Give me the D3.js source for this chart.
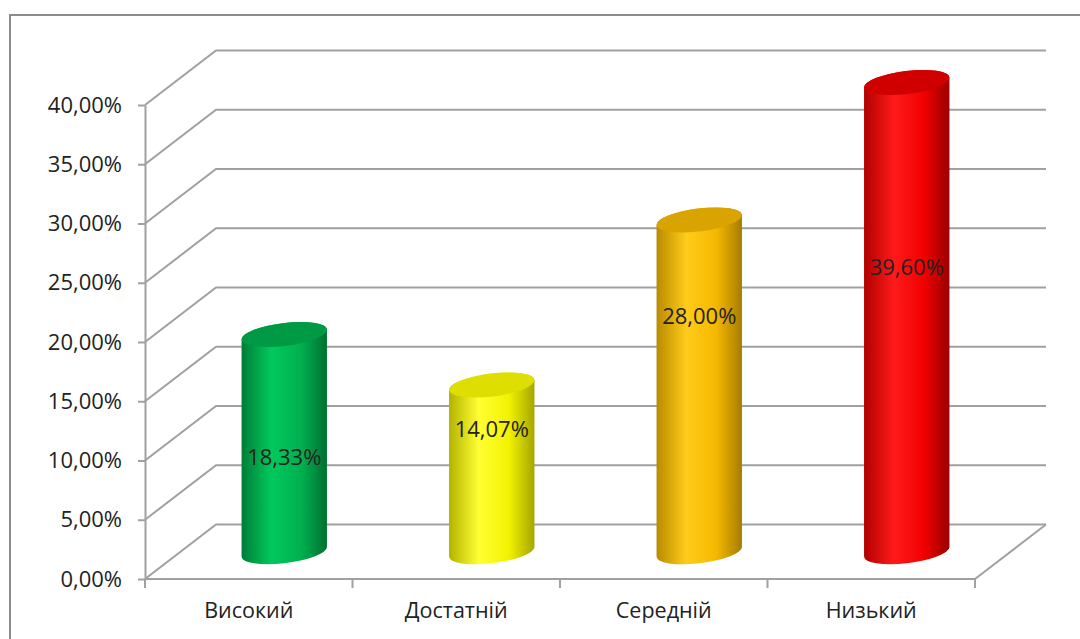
<!DOCTYPE html>
<html>
<head>
<meta charset="utf-8">
<script src="https://d3js.org/d3.v7.min.js"></script>
<style>
  body { margin: 0; background: #fff; }
  text { font-family: "Open Sans", sans-serif; fill: #222; }
</style>
</head>
<body>
<svg width="1080" height="639"></svg>
<script>
// data
var categories = ["Високий", "Достатній", "Середній", "Низький"];
var values = [18.33, 14.07, 28.00, 39.60];
var valueLabels = ["18,33%", "14,07%", "28,00%", "39,60%"];
// height (in % units) where each value label sits inside its bar
var labelLevels = [8.0, 10.3, 19.9, 24.0];
var yTicks = [0, 5, 10, 15, 20, 25, 30, 35, 40];
var bodyColors = [
  ["#007d38", "#00c95c", "#00b050", "#006f31"],
  ["#b3b300", "#ffff33", "#f2f200", "#a6a600"],
  ["#b98b00", "#ffcc1a", "#f5b800", "#a67c00"],
  ["#b00000", "#ff1a1a", "#f20000", "#990000"]
];
var capColors = ["#009a44", "#dede00", "#d9a400", "#d10000"];

var svg = d3.select("svg");

var x0 = 145, x1 = 975, yBase = 579, yTop = 105;
var depthX = 71, depthY = 54.5;

var x = d3.scaleBand().domain(categories).range([x0, x1]);
var y = d3.scaleLinear().domain([0, 40]).range([yBase, yTop]);

// outer frame
svg.append("path")
   .attr("d", "M10,640 L10,15 L1081,15")
   .attr("fill", "none")
   .attr("stroke", "#8c8c8c")
   .attr("stroke-width", 2);

// back wall gridlines with the side-wall diagonals
svg.append("g").selectAll("path")
   .data(yTicks)
   .enter().append("path")
   .attr("d", function(d) {
       return "M" + x0 + "," + y(d) + " L" + (x0 + depthX) + "," + (y(d) - depthY) +
              " L" + (x1 + depthX) + "," + (y(d) - depthY);
   })
   .attr("fill", "none")
   .attr("stroke", "#a0a0a0")
   .attr("stroke-width", 2);

// floor: front edge and right diagonal
svg.append("path")
   .attr("d", "M" + x0 + "," + yBase + " L" + x1 + "," + yBase + " L" + (x1 + depthX) + "," + (yBase - depthY))
   .attr("fill", "none")
   .attr("stroke", "#a0a0a0")
   .attr("stroke-width", 2);

// y axis
var fmt = function(d) { return d3.format(".2f")(d).replace(".", ",") + "%"; };
var yAxis = svg.append("g")
   .attr("transform", "translate(" + x0 + ",0)")
   .call(d3.axisLeft(y).tickValues(yTicks).tickFormat(fmt).tickSizeInner(7).tickSizeOuter(0).tickPadding(16));
yAxis.select(".domain").attr("stroke", "#a0a0a0").attr("stroke-width", 2);
yAxis.selectAll(".tick line").attr("stroke", "#a0a0a0").attr("stroke-width", 2);
yAxis.selectAll(".tick text").style("font-size", "22px").style("font-family", "Open Sans").attr("fill", "#222");

// category ticks below floor
var bounds = categories.map(function(c) { return x(c); }).concat([x1]);
svg.append("g").selectAll("line")
   .data(bounds)
   .enter().append("line")
   .attr("x1", function(d) { return d; })
   .attr("x2", function(d) { return d; })
   .attr("y1", yBase)
   .attr("y2", yBase + 9)
   .attr("stroke", "#a0a0a0")
   .attr("stroke-width", 2);

svg.append("g").selectAll("text")
   .data(categories)
   .enter().append("text")
   .attr("x", function(d) { return x(d) + x.bandwidth() / 2; })
   .attr("y", 618)
   .attr("text-anchor", "middle")
   .style("font-size", "21.5px")
   .text(function(d) { return d; });

// gradients
var defs = svg.append("defs");
bodyColors.forEach(function(c, i) {
    var g = defs.append("linearGradient").attr("id", "body" + i)
        .attr("x1", "0").attr("x2", "1").attr("y1", "0").attr("y2", "0");
    g.append("stop").attr("offset", "0%").attr("stop-color", c[0]);
    g.append("stop").attr("offset", "35%").attr("stop-color", c[1]);
    g.append("stop").attr("offset", "70%").attr("stop-color", c[2]);
    g.append("stop").attr("offset", "100%").attr("stop-color", c[3]);
});

// cylinders, placed at mid depth
var rx = 43, ry = 11.5, theta = -7;
var th = theta * Math.PI / 180;
var t0 = Math.atan(-ry * Math.sin(th) / (rx * Math.cos(th)));
var px = rx * Math.cos(t0) * Math.cos(th) - ry * Math.sin(t0) * Math.sin(th);
var py = rx * Math.cos(t0) * Math.sin(th) + ry * Math.sin(t0) * Math.cos(th);
if (px < 0) { px = -px; py = -py; }

var yMid = function(v) { return y(v) - depthY / 2; };
var cxOf = function(c) { return x(c) + x.bandwidth() / 2 + depthX / 2; };

var bars = svg.append("g").selectAll("g")
   .data(values)
   .enter().append("g");

bars.append("path")
   .attr("d", function(d, i) {
       var cx = cxOf(categories[i]), top = yMid(d), bot = yMid(0);
       return "M" + (cx - px) + "," + (top - py) +
              " L" + (cx - px) + "," + (bot - py) +
              " A" + rx + "," + ry + " " + theta + " 0 0 " + (cx + px) + "," + (bot + py) +
              " L" + (cx + px) + "," + (top + py) +
              " A" + rx + "," + ry + " " + theta + " 0 0 " + (cx - px) + "," + (top - py) + " Z";
   })
   .attr("fill", function(d, i) { return "url(#body" + i + ")"; });

bars.append("ellipse")
   .attr("cx", function(d, i) { return cxOf(categories[i]); })
   .attr("cy", function(d) { return yMid(d); })
   .attr("rx", rx)
   .attr("ry", ry)
   .attr("transform", function(d, i) { return "rotate(" + theta + "," + cxOf(categories[i]) + "," + yMid(d) + ")"; })
   .attr("fill", function(d, i) { return capColors[i]; });

bars.append("text")
   .attr("x", function(d, i) { return cxOf(categories[i]); })
   .attr("y", function(d, i) { return yMid(labelLevels[i]); })
   .attr("dy", "0.35em")
   .attr("text-anchor", "middle")
   .style("font-size", "22px")
   .attr("fill", "#1a1a1a")
   .text(function(d, i) { return valueLabels[i]; });
</script>
</body>
</html>
